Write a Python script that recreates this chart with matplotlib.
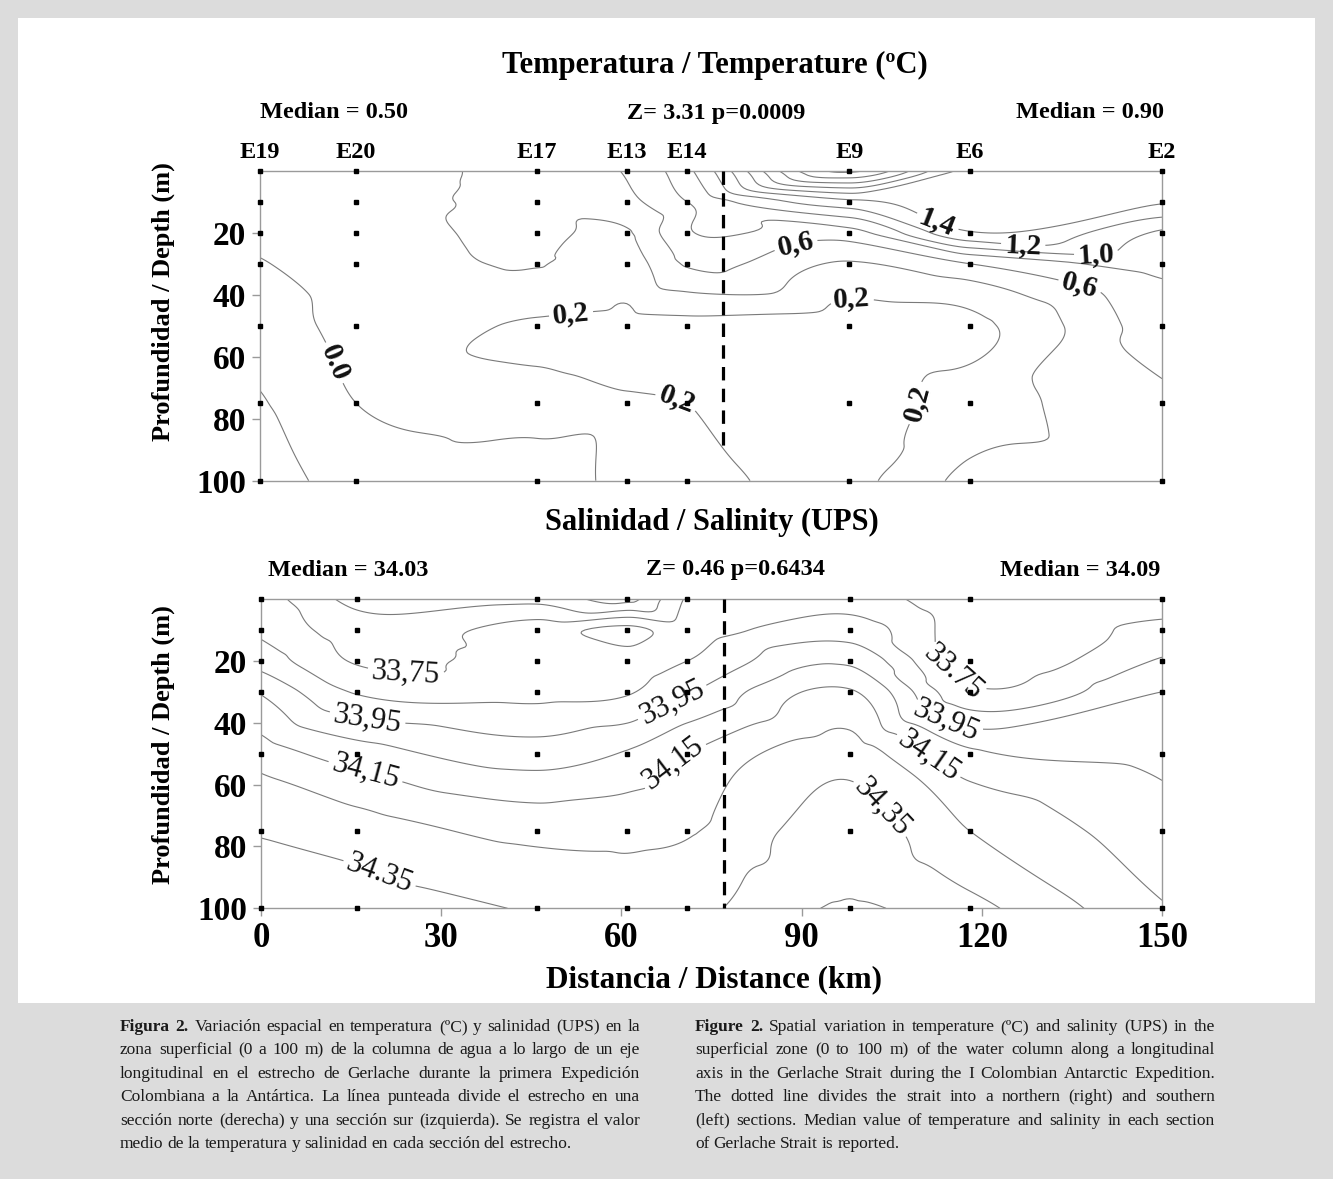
import numpy as np
import matplotlib
matplotlib.use('Agg')
import matplotlib.pyplot as plt
import matplotlib.tri as mtri
from matplotlib.patches import Rectangle
from matplotlib.transforms import blended_transform_factory

plt.rcParams['font.family'] = ['Liberation Serif', 'DejaVu Serif']

# stations along the strait
stations = ['E19', 'E20', 'E17', 'E13', 'E14', 'E9', 'E6', 'E2']
distance_km = [0, 16, 46, 61, 71, 98, 118, 150]
depth_m = [0, 10, 20, 30, 50, 75, 100]
divide_km = 77

# rows = depth, columns = station (nan = no sample)
temperature = [
    [0.30, 0.32, 0.48, 0.62, 0.95, 2.45, 1.55, 1.56],
    [0.28, 0.32, 0.47, 0.55, 0.80, 1.35, np.nan, 1.42],
    [0.24, 0.30, 0.45, 0.38, 0.78, 0.72, 1.38, 0.97],
    [0.19, 0.28, 0.41, 0.30, 0.62, 0.38, 0.60, 0.88],
    [0.10, 0.25, 0.18, 0.15, 0.15, 0.12, 0.15, 0.72],
    [-0.02, 0.20, 0.24, 0.21, 0.20, 0.10, 0.30, 0.55],
    [-0.10, 0.08, 0.14, 0.23, 0.25, 0.15, 0.45, 0.50],
]
salinity = [
    [33.80, 33.62, 33.62, 33.52, 33.76, 33.80, 33.68, 33.68],
    [33.83, 33.70, 33.80, 33.88, 33.80, 33.90, np.nan, 33.78],
    [33.91, 33.74, 33.80, 33.80, 33.85, 34.03, 33.70, 33.86],
    [34.04, 33.84, 33.82, 33.84, 33.94, 34.16, 33.77, 33.95],
    [34.20, 34.10, 34.00, 34.06, 34.15, 34.30, 34.07, 34.02],
    [34.34, 34.30, 34.22, 34.22, 34.24, 34.40, 34.25, 34.09],
    [34.42, 34.40, 34.34, 34.30, 34.32, 34.46, 34.38, 34.16],
]
temp_levels = np.round(np.arange(0.0, 2.5, 0.2), 2)
sal_levels = np.round(np.arange(33.55, 34.5, 0.1), 2)

# label spots: km, depth, level, text as printed
temp_labels = [
    (113.0, 15.0, 1.4, '1,4'),
    (127.0, 21.0, 1.2, '1,2'),
    (139.0, 22.0, 1.0, '1,0'),
    (89.3, 25.6, 0.6, '0,6'),
    (135.9, 40.5, 0.6, '0,6'),
    (51.6, 43.9, 0.2, '0,2'),
    (98.4, 41.7, 0.2, '0,2'),
    (69.3, 74.0, 0.2, '0,2'),
    (112.0, 76.0, 0.2, '0,2'),
    (15.0, 60.0, 0.2, '0.0'),
]
sal_labels = [
    (24.1, 24.6, 33.75, '33,75'),
    (17.7, 39.0, 33.95, '33,95'),
    (17.4, 55.8, 34.15, '34,15'),
    (21.2, 82.0, 34.35, '34.35'),
    (68.5, 33.6, 33.95, '33,95'),
    (68.5, 53.0, 34.15, '34,15'),
    (120.8, 14.2, 33.75, '33.75'),
    (115.0, 34.9, 33.95, '33,95'),
    (111.6, 49.6, 34.15, '34,15'),
    (102.4, 68.9, 34.35, '34,35'),
]

caption_es = [
    'Figura 2. Variación espacial en temperatura (ºC) y salinidad (UPS) en la',
    'zona superficial (0 a 100 m) de la columna de agua a lo largo de un eje',
    'longitudinal en el estrecho de Gerlache durante la primera Expedición',
    'Colombiana a la Antártica. La línea punteada divide el estrecho en una',
    'sección norte (derecha) y una sección sur (izquierda). Se registra el valor',
    'medio de la temperatura y salinidad en cada sección del estrecho.',
]
caption_en = [
    'Figure 2. Spatial variation in temperature (ºC) and salinity (UPS) in the',
    'superficial zone (0 to 100 m) of the water column along a longitudinal',
    'axis in the Gerlache Strait during the I Colombian Antarctic Expedition.',
    'The dotted line divides the strait into a northern (right) and southern',
    '(left) sections. Median value of temperature and salinity in each section',
    'of Gerlache Strait is reported.',
]

W, H = 1333, 1179
def fx(px):
    return px / W
def fy(py):
    return 1 - py / H

fig = plt.figure(figsize=(W / 100, H / 100), dpi=100)
fig.patch.set_facecolor('#dcdcdc')
fig.patches.append(Rectangle((fx(18), fy(1003)), fx(1315 - 18), (1003 - 18) / H,
                             transform=fig.transFigure, facecolor='white',
                             edgecolor='none', zorder=-1))

X, Z = np.meshgrid(distance_km, depth_m)


def smooth_field(values):
    v = np.array(values, dtype=float)
    ok = ~np.isnan(v)
    tri = mtri.Triangulation(X[ok], Z[ok])
    interp = mtri.CubicTriInterpolator(tri, v[ok], kind='geom')
    xi, zi = np.meshgrid(np.linspace(0, 150, 301), np.linspace(0, 100, 201))
    return xi, zi, interp(xi, zi), X[ok], Z[ok]


def draw_panel(ax, values, levels, labels, lab_size, lab_weight, line_end):
    # limits first (depth down) so label angles follow the drawn lines
    ax.set_xlim(0, 150)
    ax.set_ylim(100, 0)
    xi, zi, vi, xs, zs = smooth_field(values)
    # one contour set per level so each label sits on the right line
    for lev in levels:
        cs = ax.contour(xi, zi, vi, levels=[lev], colors='#7a7a7a', linewidths=0.8)
        for x, z, l, txt in labels:
            if l != lev or len(cs.allsegs[0]) == 0:
                continue
            ax.clabel(cs, manual=[(x, z)], inline=True, inline_spacing=4,
                      fontsize=lab_size, fmt=lambda v, t=txt: t)
    for t in ax.texts:
        t.set_fontweight(lab_weight)
        t.set_color('#111111')
    ax.plot(xs, zs, 's', ms=2.2, color='k', clip_on=False, zorder=5)
    ax.plot([divide_km, divide_km], [0, line_end], color='k', lw=2.3,
            linestyle=(0, (4.2, 2.6)), zorder=6, clip_on=False)
    ax.set_yticks([20, 40, 60, 80, 100])
    for sp in ax.spines.values():
        sp.set_color('#9a9a9a')
        sp.set_linewidth(1.0)
    ax.tick_params(direction='out', length=6, width=1, color='#9a9a9a',
                   labelsize=24, pad=4)
    for lab in ax.get_yticklabels() + ax.get_xticklabels():
        lab.set_fontweight('bold')


ax1 = fig.add_axes([fx(260), fy(480.7), fx(902), 310 / H])
draw_panel(ax1, temperature, temp_levels, temp_labels, 21, 'bold', 89)
ax1.set_xticks([])

ax2 = fig.add_axes([fx(261), fy(908.3), fx(901), 309.3 / H])
draw_panel(ax2, salinity, sal_levels, sal_labels, 22, 'normal', 100)
ax2.set_xticks([0, 30, 60, 90, 120, 150])
for lab in ax2.get_xticklabels():
    lab.set_fontweight('bold')
    lab.set_fontsize(25)

# station names above top panel
trans = blended_transform_factory(ax1.transData, fig.transFigure)
for name, km in zip(stations, distance_km):
    fig.text(km, fy(152), name, transform=trans, ha='center', va='center',
             fontsize=17.5, fontweight='bold')

bold = dict(fontweight='bold', ha='center', va='center')
fig.text(fx(715), fy(65), 'Temperatura / Temperature (ºC)', fontsize=22, **bold)
fig.text(fx(334), fy(113), 'Median = 0.50', fontsize=17.5, **bold)
fig.text(fx(716), fy(113), 'Z= 3.31 p=0.0009', fontsize=17.5, **bold)
fig.text(fx(1090), fy(113), 'Median = 0.90', fontsize=17.5, **bold)
fig.text(fx(712), fy(522), 'Salinidad / Salinity (UPS)', fontsize=22, **bold)
fig.text(fx(348), fy(570), 'Median = 34.03', fontsize=17.5, **bold)
fig.text(fx(735), fy(570), 'Z= 0.46 p=0.6434', fontsize=17.5, **bold)
fig.text(fx(1080), fy(570), 'Median = 34.09', fontsize=17.5, **bold)
fig.text(fx(714), fy(980), 'Distancia / Distance (km)', fontsize=22.5, **bold)
fig.text(fx(163), fy(302), 'Profundidad / Depth (m)', rotation=90, fontsize=19, **bold)
fig.text(fx(163), fy(745), 'Profundidad / Depth (m)', rotation=90, fontsize=19, **bold)


# justified two-column caption
def caption(x0, width, lines):
    r = fig.canvas.get_renderer()
    for i, line in enumerate(lines):
        y = fy(1031 + i * 23.4)
        words = line.split(' ')
        arts = []
        for j, w in enumerate(words):
            wt = 'bold' if (i == 0 and j < 2) else 'normal'
            arts.append(fig.text(0, y, w, fontsize=12.5, fontweight=wt,
                                 va='baseline', color='#1a1a1a'))
        widths = [t.get_window_extent(r).width for t in arts]
        if i < len(lines) - 1 and len(words) > 1:
            gap = max((width - sum(widths)) / (len(words) - 1), 2.5)
        else:
            gap = 4.0
        x = x0
        for t, wd in zip(arts, widths):
            t.set_x(fx(x))
            x += wd + gap


caption(120, 520, caption_es)
caption(695, 520, caption_en)

fig.savefig('out.png', dpi=100, facecolor=fig.get_facecolor())
